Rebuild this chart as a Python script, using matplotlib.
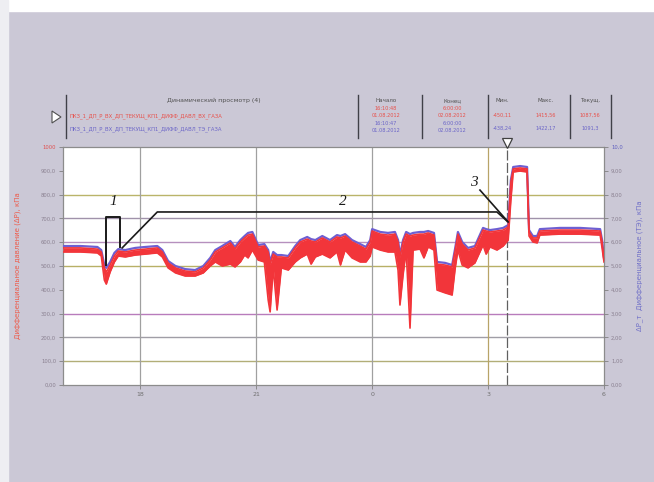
import matplotlib.pyplot as plt
from matplotlib.patches import Rectangle, Polygon

# time in hours (24+ = next day), values in % of scale
time = [16.00, 16.45, 16.89, 16.99, 17.07, 17.12, 17.22, 17.33, 17.43, 17.61,
        17.87, 18.13, 18.44, 18.57, 18.72, 18.91, 19.16, 19.42, 19.63, 19.81,
        19.94, 20.12, 20.33, 20.45, 20.59, 20.70, 20.79, 20.90, 21.05, 21.21,
        21.31, 21.36, 21.44, 21.54, 21.65, 21.83, 22.01, 22.14, 22.32, 22.42,
        22.53, 22.71, 22.91, 23.09, 23.18, 23.30, 23.48, 23.69, 23.84, 23.95,
        24.00, 24.21, 24.41, 24.59, 24.67, 24.72, 24.80, 24.88, 24.98, 25.06,
        25.24, 25.34, 25.45, 25.60, 25.68, 25.89, 26.07, 26.15, 26.22, 26.33,
        26.48, 26.66, 26.87, 26.95, 27.05, 27.23, 27.39, 27.52, 27.59, 27.65,
        27.83, 28.01, 28.06, 28.16, 28.27, 28.34, 28.86, 29.38, 29.90, 29.95,
        30.00]
blue = [58.4, 58.4, 58.0, 56.7, 50.4, 49.2, 51.7, 55.5, 57.1, 56.7,
        57.6, 58.0, 58.4, 56.7, 52.1, 50.0, 48.7, 48.3, 50.0, 53.4,
        56.7, 58.4, 60.5, 58.0, 60.9, 62.6, 63.9, 64.3, 58.8, 59.2,
        56.7, 51.7, 55.9, 54.6, 54.6, 54.2, 58.4, 60.9, 62.2, 61.3,
        60.9, 62.6, 60.9, 63.0, 62.6, 63.4, 60.9, 59.2, 58.0, 60.9,
        65.5, 64.3, 63.9, 64.3, 60.9, 54.6, 60.9, 64.3, 63.4, 63.9,
        64.3, 64.3, 64.7, 63.9, 51.7, 51.3, 50.4, 57.6, 64.3, 60.1,
        57.6, 58.4, 66.0, 65.5, 65.1, 65.5, 66.0, 67.2, 86.1, 91.6,
        92.0, 91.6, 65.1, 62.6, 62.6, 65.5, 66.0, 66.0, 65.5, 60.9,
        53.4]
red_hi = [57.6, 57.6, 57.1, 55.9, 49.2, 47.5, 50.4, 54.2, 56.3, 55.9,
          56.7, 57.1, 57.6, 55.9, 51.3, 49.2, 47.9, 47.5, 49.2, 52.5,
          55.9, 57.6, 59.7, 57.2, 60.1, 61.8, 63.0, 63.4, 58.0, 58.4,
          55.9, 50.8, 55.0, 53.8, 53.8, 53.4, 57.6, 60.1, 61.3, 60.5,
          60.1, 61.8, 60.1, 62.2, 61.8, 62.6, 60.1, 58.4, 57.1, 60.1,
          64.7, 63.4, 63.0, 63.4, 60.1, 53.8, 60.1, 63.4, 62.6, 63.0,
          63.4, 63.4, 63.9, 63.0, 50.8, 50.4, 49.6, 56.7, 63.4, 59.2,
          56.7, 57.6, 65.1, 64.7, 64.3, 64.7, 65.1, 66.4, 85.3, 90.8,
          91.2, 90.8, 64.3, 61.8, 61.8, 64.7, 65.1, 65.1, 64.7, 60.1,
          52.5]
red_lo = [55.9, 55.9, 55.5, 54.2, 44.1, 42.4, 47.5, 51.7, 54.2, 53.8,
          54.6, 55.0, 55.5, 53.8, 49.2, 47.1, 45.8, 45.8, 47.1, 50.0,
          51.7, 50.0, 50.8, 49.6, 51.7, 54.6, 53.4, 56.7, 52.5, 51.7,
          35.7, 30.7, 49.2, 31.5, 49.2, 48.3, 51.7, 53.4, 55.0, 50.8,
          53.8, 55.0, 53.4, 55.9, 50.4, 56.7, 53.4, 51.7, 51.7, 54.2,
          58.0, 56.7, 55.9, 55.9, 48.3, 33.6, 46.2, 56.7, 23.9, 56.7,
          57.1, 53.4, 58.0, 56.7, 39.9, 38.7, 37.8, 49.2, 56.7, 50.4,
          49.2, 51.3, 58.8, 55.0, 58.0, 56.7, 58.4, 60.9, 77.7, 89.5,
          89.9, 89.5, 62.6, 60.1, 59.7, 63.0, 63.4, 63.4, 63.0, 57.6,
          51.7]

x_ticks = [18, 21, 24, 27, 30]
x_labels = ["18", "21", "0", "3", "6"]
y_ticks = [0, 10, 20, 30, 40, 50, 60, 70, 80, 90, 100]
y_left_labels = ["0,00", "100,0", "200,0", "300,0", "400,0", "500,0",
                 "600,0", "700,0", "800,0", "900,0", "1000"]
y_right_labels = ["0,00", "1,00", "2,00", "3,00", "4,00", "5,00",
                  "6,00", "7,00", "8,00", "9,00", "10,0"]
grid_levels = [10, 20, 30, 50, 60, 70, 80]
grid_colors = ["#b2ae78", "#a09ea6", "#b87cbc", "#b8b066", "#b690be", "#a092aa", "#bab46a"]
cursor_t = 27.5

fig = plt.figure(figsize=(6.54, 4.82), dpi=100, facecolor="#cbc8d6")
fig.patches.append(Rectangle((0, 1 - 11 / 482), 1, 11 / 482, transform=fig.transFigure,
                             color="white", zorder=0))
fig.patches.append(Rectangle((0, 0), 8 / 654, 1, transform=fig.transFigure,
                             color="#eeeef2", zorder=0))

ax = fig.add_axes([63 / 654, 97 / 482, 541 / 654, 238 / 482])
ax.set_facecolor("white")
ax.set_xlim(16, 30)
ax.set_ylim(0, 100)

for lev, c in zip(grid_levels, grid_colors):
    ax.axhline(lev, color=c, lw=1.0, zorder=1)
for t in [18, 21, 24]:
    ax.axvline(t, color="#a0a0a0", lw=0.9, zorder=1)
ax.axvline(27, color="#b8a468", lw=0.9, zorder=1)
ax.axvline(cursor_t, color="#606060", lw=0.9, ls=(0, (8, 2)), zorder=1)

ax.plot(time, blue, color="#6e5fd2", lw=1.6, zorder=3)
ax.fill_between(time, red_lo, red_hi, color="#f2353a", lw=0, zorder=4)
ax.plot(time, red_hi, color="#f2353a", lw=1.2, zorder=4)
ax.plot(time, red_lo, color="#f2353a", lw=1.2, zorder=4)

# annotations 1, 2, 3
ax.plot([17.12, 17.12, 17.48, 17.48], [50.4, 70.6, 70.6, 58.0], color="#1a1a1a", lw=1.4, zorder=5)
ax.plot([17.53, 18.44, 27.23, 27.49], [57.6, 72.7, 72.7, 68.9], color="#1a1a1a", lw=1.2, zorder=5)
ax.plot([26.79, 27.52], [81.9, 68.5], color="#1a1a1a", lw=1.2, zorder=5)
txt = dict(family="Liberation Serif", style="italic", fontsize=11, color="#1a1a1a", zorder=6)
ax.text(17.30, 74.5, "1", ha="center", va="bottom", **txt)
ax.text(23.25, 74.5, "2", ha="center", va="bottom", **txt)
ax.text(26.62, 82.5, "3", ha="center", va="bottom", **txt)

ax.set_xticks(x_ticks)
ax.set_xticklabels(x_labels, fontsize=4.5, color="#707070")
ax.set_yticks(y_ticks)
ax.set_yticklabels(y_left_labels, fontsize=3.8, color="#8a8090")
ax.tick_params(axis="both", length=3, width=0.6, color="#808080", pad=2)
ax.get_yticklabels()[-1].set_color("#e05050")
for s in ax.spines.values():
    s.set_color("#8c8c8c")
    s.set_linewidth(0.9)

ax2 = ax.twinx()
ax2.set_ylim(0, 100)
ax2.set_yticks(y_ticks)
ax2.set_yticklabels(y_right_labels, fontsize=3.8, color="#8a8090")
ax2.get_yticklabels()[-1].set_color("#6060c0")
ax2.tick_params(axis="y", length=3, width=0.6, color="#808080", pad=2)
for s in ax2.spines.values():
    s.set_visible(False)

ax.set_ylabel("Дифференциальное давление (ΔP), кПа", color="#ee5a4a", fontsize=5, labelpad=14)
ax2.set_ylabel("ΔP_т  Дифференциальное (ТЭ), кПа", color="#7070c8", fontsize=5, labelpad=10)

# cursor marker
ax.plot([cursor_t], [101.5], marker="v", ms=7, mfc="white", mec="#404040", mew=0.9,
        clip_on=False, zorder=7)

# header table
hdr_y = 1 - 102 / 482
fig.text(214 / 654, hdr_y, "Динамический просмотр (4)", fontsize=4.5, color="#505050", ha="center")
fig.text(70 / 654, 1 - 117 / 482,
         "ПКЗ_1_ДП_Р_ВХ_ДП_ТЕКУЩ_КП1_ДИФФ_ДАВЛ_ВХ_ГАЗА",
         fontsize=3.8, color="#e8504a")
fig.text(70 / 654, 1 - 130 / 482,
         "ПКЗ_1_ДП_Р_ВХ_ДП_ТЕКУЩ_КП1_ДИФФ_ДАВЛ_ТЭ_ГАЗА",
         fontsize=3.8, color="#6a64c8")
fig.patches.append(Polygon([[52 / 654, 1 - 111 / 482], [52 / 654, 1 - 123 / 482], [61 / 654, 1 - 117 / 482]],
                           closed=True, fc="white", ec="#505050", lw=0.8, transform=fig.transFigure))
for xp in [66, 358, 422, 488, 570, 611]:
    fig.add_artist(plt.Line2D([xp / 654, xp / 654], [1 - 95 / 482, 1 - 138 / 482],
                              color="#404048", lw=1.0, transform=fig.transFigure))

cols = [386, 452, 502, 546, 590]
col_names = ["Начало", "Конец", "Мин.", "Макс.", "Текущ."]
red_vals = [["16:10:48", "01.08.2012"], ["6:00:00", "02.08.2012"], ["-450,11"], ["1415,56"], ["1087,56"]]
blue_vals = [["16:10:47", "01.08.2012"], ["6:00:00", "02.08.2012"], ["-438,24"], ["1422,17"], ["1091,3"]]
for cx, name, rv, bv in zip(cols, col_names, red_vals, blue_vals):
    fig.text(cx / 654, hdr_y, name, fontsize=4, color="#505050", ha="center")
    if len(rv) == 2:
        fig.text(cx / 654, 1 - 110 / 482, rv[0], fontsize=3.6, color="#e8504a", ha="center")
        fig.text(cx / 654, 1 - 117 / 482, rv[1], fontsize=3.6, color="#e8504a", ha="center")
        fig.text(cx / 654, 1 - 125 / 482, bv[0], fontsize=3.6, color="#6a64c8", ha="center")
        fig.text(cx / 654, 1 - 132 / 482, bv[1], fontsize=3.6, color="#6a64c8", ha="center")
    else:
        fig.text(cx / 654, 1 - 117 / 482, rv[0], fontsize=3.6, color="#e8504a", ha="center")
        fig.text(cx / 654, 1 - 130 / 482, bv[0], fontsize=3.6, color="#6a64c8", ha="center")

fig.savefig("out.png", dpi=100, facecolor=fig.get_facecolor())
